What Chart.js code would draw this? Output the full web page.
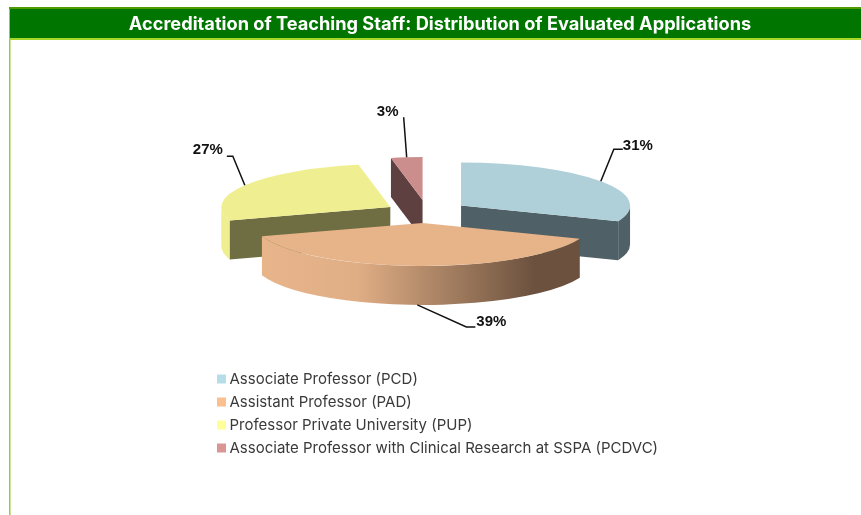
<!DOCTYPE html>
<html>
<head>
<meta charset="utf-8">
<style>html,body{margin:0;padding:0;background:#fff}#wrap{position:relative;width:861px;height:515px}</style>
<script src="https://cdn.jsdelivr.net/npm/chart.js@4"></script>
</head>
<body>
<div id="wrap"><canvas id="c" width="861" height="515"></canvas></div>
<script>
const titleText = 'Accreditation of Teaching Staff: Distribution of Evaluated Applications';
const categories = ['Associate Professor (PCD)','Assistant Professor (PAD)','Professor Private University (PUP)','Associate Professor with Clinical Research at SSPA (PCDVC)'];
const shares = [31,39,27,3];
const topColors = ['#AFD0D9','#E7B48A','#EFEF91','#CC8E8D'];
const sideColors = ['#4F6166','#6B513E','#6E6E42','#5F4040'];
const rimColors = ['#4F6166',null,'#EFEF91','#5F4040'];
const legendColors = ['#B7DEE8','#FCBF8F','#FFFF99','#D99694'];
const explode = [46,43,38,47];
const axisNudge = [0,1,0,4];
const squash = 0.2544, depth = 39, pieRadius = 169;
const labelFont = 'bold 15px "Liberation Sans"';
// leader geometry relative to each slice's rim anchor: [elbowDx, elbowDy, endDx, endDy, textDx, textDy]
const leaders = [[13,-32,22,-32,37,-35],[49,22,58,22,74,17],[-12,-29,-18,-29,-37,-35],[-3,-40,-3,-40,-19,-45]];

function pivot(chart){const a=chart.chartArea;return {x:(a.left+a.right)/2,y:(a.top+a.bottom)/2};}
function sliceGeom(chart,i){
  const el = chart.getDatasetMeta(0).data[i];
  const p = pivot(chart);
  const mid = (el.startAngle+el.endAngle)/2;
  const cx = el.x;
  const cy = p.y+(el.y-p.y)*squash;
  return {el,mid,cx,cy,s:el.startAngle,e:el.endAngle,R:el.outerRadius,Ry:el.outerRadius*squash};
}
const pie3d = {
  id:'pie3d',
  beforeDraw(chart){
    const ctx = chart.ctx;
    ctx.save();
    ctx.fillStyle='#fff'; ctx.fillRect(0,0,861,515);
    ctx.fillStyle='#9ACD32'; ctx.fillRect(9,8,1.5,507);
    ctx.fillStyle='#4E9A00'; ctx.fillRect(9,7,852,2);
    ctx.fillStyle='#007500'; ctx.fillRect(10,9,851,29);
    ctx.fillStyle='#A6D82A'; ctx.fillRect(9,38,852,2);
    ctx.restore();
  },
  afterLayout(chart){
    const tb = chart.titleBlock;
    const lh = 21.84;
    tb.left=19; tb.right=861; tb.top=25-lh/2; tb.bottom=tb.top+lh;
    const lg = chart.legend;
    lg.left=213; lg.top=363.5; lg.bottom=515; lg.right=861;
  },
  afterDatasetsUpdate(chart){
    chart.getDatasetMeta(0).data.forEach((el,i)=>{
      const mid=(el.startAngle+el.endAngle)/2;
      el.x += Math.cos(mid)*explode[i]+axisNudge[i];
      el.y += Math.sin(mid)*explode[i];
    });
  },
  beforeDatasetsDraw(chart){
    const ctx = chart.ctx;
    const order = shares.map((_,i)=>i).sort((a,b)=>Math.sin(sliceGeom(chart,a).mid)-Math.sin(sliceGeom(chart,b).mid));
    for(const i of order){
      const g = sliceGeom(chart,i);
      ctx.save();
      const face = a=>{
        const px=g.cx+Math.cos(a)*g.R, py=g.cy+Math.sin(a)*g.Ry;
        ctx.fillStyle=sideColors[i];
        ctx.beginPath();ctx.moveTo(g.cx,g.cy);ctx.lineTo(px,py);ctx.lineTo(px,py+depth);ctx.lineTo(g.cx,g.cy+depth);ctx.closePath();ctx.fill();
      };
      if(-Math.cos(g.s)>1e-6) face(g.s);
      if(Math.cos(g.e)>1e-6) face(g.e);
      const a0=Math.max(g.s,0), a1=Math.min(g.e,Math.PI);
      if(a1>a0){
        let fill=rimColors[i];
        if(!fill){
          const x0=g.cx+Math.cos(g.s)*g.R, x1=g.cx+Math.cos(g.e)*g.R;
          const gr=ctx.createLinearGradient(x1,0,x0,0);
          gr.addColorStop(0,'#E8B58B');gr.addColorStop(0.3,'#E0AE85');gr.addColorStop(0.86,'#6B513E');gr.addColorStop(1,'#6B513E');
          fill=gr;
        }
        ctx.fillStyle=fill;
        ctx.beginPath();
        ctx.ellipse(g.cx,g.cy,g.R,g.Ry,0,a0,a1);
        ctx.ellipse(g.cx,g.cy+depth,g.R,g.Ry,0,a1,a0,true);
        ctx.closePath();ctx.fill();
      }
      ctx.restore();
    }
  },
  beforeDatasetDraw(chart){
    const ctx=chart.ctx, p=pivot(chart);
    ctx.save();
    ctx.translate(p.x,p.y);ctx.scale(1,squash);ctx.translate(-p.x,-p.y);
  },
  afterDatasetDraw(chart){ chart.ctx.restore(); },
  afterDatasetsDraw(chart){
    const ctx=chart.ctx;
    ctx.save();
    ctx.strokeStyle='#111';ctx.lineWidth=1.5;ctx.fillStyle='#111';ctx.font=labelFont;ctx.textBaseline='middle';ctx.textAlign='center';
    shares.forEach((v,i)=>{
      const g=sliceGeom(chart,i);
      const onRim=Math.sin(g.mid)>0;
      const ax=g.cx+Math.cos(g.mid)*g.R, ay=g.cy+Math.sin(g.mid)*g.Ry+(onRim?depth:0);
      const L=leaders[i];
      ctx.beginPath();ctx.moveTo(ax,ay);ctx.lineTo(ax+L[0],ay+L[1]);ctx.lineTo(ax+L[2],ay+L[3]);ctx.stroke();
      ctx.fillText(v+'%',ax+L[4],ay+L[5]);
    });
    ctx.restore();
  }
};
new Chart(document.getElementById('c'),{
  type:'pie',
  data:{labels:categories,datasets:[{data:shares,backgroundColor:topColors,borderWidth:0,clip:false}]},
  options:{
    responsive:false,animation:false,
    radius:pieRadius,
    layout:{padding:{left:0,right:15,top:0,bottom:112.8}},
    events:[],
    plugins:{
      tooltip:{enabled:false},
      title:{display:true,text:titleText,color:'#fff',padding:0,font:{family:'Inter',weight:'bold',size:18.2,lineHeight:1.2}},
      legend:{display:true,position:'chartArea',align:'start',
        labels:{usePointStyle:true,pointStyle:'rect',boxWidth:1,boxHeight:9,padding:8,color:'#3a3a3a',font:{family:'Inter',size:15},
          generateLabels:c=>Chart.overrides.doughnut.plugins.legend.labels.generateLabels(c).map((l,i)=>({...l,fillStyle:legendColors[i],strokeStyle:legendColors[i],lineWidth:0}))}}
    }
  },
  plugins:[pie3d]
});
</script>
</body>
</html>
